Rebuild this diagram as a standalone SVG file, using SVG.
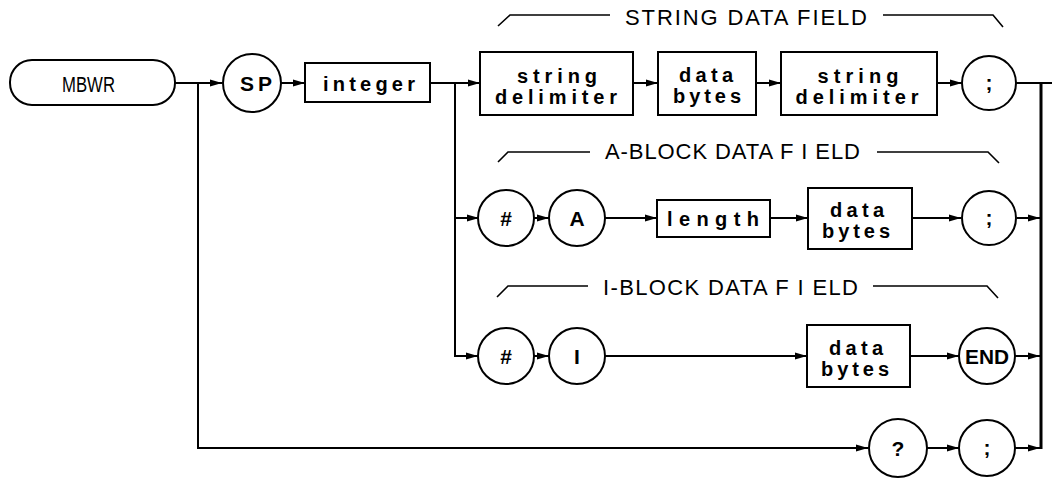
<svg xmlns="http://www.w3.org/2000/svg" width="1059" height="479" viewBox="0 0 1059 479">
<style>
.shape{fill:#fff;stroke:#000;stroke-width:2}
.ln{fill:none;stroke:#000;stroke-width:2}
.br{fill:none;stroke:#000;stroke-width:1.6}
.lbl{font-family:"Liberation Sans",Arial,sans-serif;font-size:22px;fill:#000}
.bt{font-family:"Liberation Sans",Arial,sans-serif;font-size:20px;font-weight:bold;fill:#000;text-anchor:middle}
.ct{font-family:"Liberation Sans",Arial,sans-serif;font-size:21px;font-weight:bold;fill:#000;text-anchor:middle}
</style>
<defs>
<marker id="ah" markerUnits="userSpaceOnUse" markerWidth="13" markerHeight="8" refX="12" refY="4" orient="auto">
<path d="M0,0.5 L12,4 L0,7.5 z" fill="#000"/>
</marker>
</defs>
<rect width="1059" height="479" fill="#fff"/>

<g id="connectors">
<line class="ln" x1="175" y1="83" x2="222" y2="83" marker-end="url(#ah)"/>
<line class="ln" x1="281" y1="83" x2="305" y2="83" marker-end="url(#ah)"/>
<line class="ln" x1="430" y1="83" x2="480" y2="83" marker-end="url(#ah)"/>
<line class="ln" x1="633" y1="83" x2="658" y2="83" marker-end="url(#ah)"/>
<line class="ln" x1="756" y1="83" x2="781" y2="83" marker-end="url(#ah)"/>
<line class="ln" x1="937" y1="83" x2="962" y2="83" marker-end="url(#ah)"/>
<line class="ln" x1="1016" y1="83" x2="1052" y2="83"/>
<line x1="1041" y1="82" x2="1041" y2="449" stroke="#000" stroke-width="3"/>
<polyline class="ln" points="198,83 198,448 868,448" marker-end="url(#ah)"/>
<polyline class="ln" points="455,83 455,356 478,356" marker-end="url(#ah)"/>
<line class="ln" x1="455" y1="218" x2="479" y2="218" marker-end="url(#ah)"/>
<line class="ln" x1="534" y1="218" x2="549" y2="218" marker-end="url(#ah)"/>
<line class="ln" x1="605" y1="218" x2="657" y2="218" marker-end="url(#ah)"/>
<line class="ln" x1="770" y1="218" x2="808" y2="218" marker-end="url(#ah)"/>
<line class="ln" x1="912" y1="218" x2="961" y2="218" marker-end="url(#ah)"/>
<line class="ln" x1="1017" y1="218" x2="1040" y2="218" marker-end="url(#ah)"/>
<line class="ln" x1="534" y1="356" x2="549" y2="356" marker-end="url(#ah)"/>
<line class="ln" x1="605" y1="356" x2="807" y2="356" marker-end="url(#ah)"/>
<line class="ln" x1="910" y1="356" x2="959" y2="356" marker-end="url(#ah)"/>
<line class="ln" x1="1015" y1="356" x2="1040" y2="356" marker-end="url(#ah)"/>
<line class="ln" x1="927" y1="448" x2="959" y2="448" marker-end="url(#ah)"/>
<line class="ln" x1="1015" y1="448" x2="1040" y2="448" marker-end="url(#ah)"/>
</g>

<g id="labels">
<path class="br" d="M498,26 L510,15 L610,15 M883,15 L993,15 L1003,27"/>
<text class="lbl" x="625" y="25" textLength="242" lengthAdjust="spacing">STRING DATA FIELD</text>
<path class="br" d="M498,162 L508,152 L590,152 M877,152 L988,152 L999,163"/>
<text class="lbl" x="605" y="159" textLength="255" lengthAdjust="spacing">A-BLOCK DATA F I ELD</text>
<path class="br" d="M497,297 L508,286 L588,286 M873,286 L987,286 L998,298"/>
<text class="lbl" x="603" y="295" textLength="255" lengthAdjust="spacing">I-BLOCK DATA F I ELD</text>
</g>

<g id="n-mbwr">
<rect class="shape" x="10" y="60" width="165" height="45" rx="22" ry="22"/>
<text class="lbl" x="62" y="92" font-size="23" textLength="53" lengthAdjust="spacingAndGlyphs">MBWR</text>
</g>
<g id="n-sp">
<circle class="shape" cx="252" cy="83" r="29"/>
<text class="ct" x="256" y="91" font-size="22" textLength="32" lengthAdjust="spacing">SP</text>
</g>
<g id="n-integer">
<rect class="shape" x="305" y="63" width="125" height="39"/>
<text class="bt" x="369" y="91" textLength="92" lengthAdjust="spacing">integer</text>
</g>

<g id="n-strdelim1">
<rect class="shape" x="480" y="52" width="153" height="63"/>
<text class="bt" x="557" y="83" textLength="80" lengthAdjust="spacing">string</text>
<text class="bt" x="556" y="104" textLength="122" lengthAdjust="spacing">delimiter</text>
</g>
<g id="n-databytes1">
<rect class="shape" x="658" y="52" width="98" height="63"/>
<text class="bt" x="706" y="82" textLength="54" lengthAdjust="spacing">data</text>
<text class="bt" x="707" y="103" textLength="68" lengthAdjust="spacing">bytes</text>
</g>
<g id="n-strdelim2">
<rect class="shape" x="781" y="52" width="156" height="63"/>
<text class="bt" x="858" y="83" textLength="81" lengthAdjust="spacing">string</text>
<text class="bt" x="857" y="104" textLength="123" lengthAdjust="spacing">delimiter</text>
</g>
<g id="n-semi1">
<circle class="shape" cx="989" cy="83" r="27"/>
<text class="ct" x="989" y="90">;</text>
</g>

<g id="n-hashA">
<circle class="shape" cx="506" cy="218" r="28"/>
<text class="ct" x="506" y="226">#</text>
</g>
<g id="n-A">
<circle class="shape" cx="577" cy="218" r="28"/>
<text class="ct" x="577" y="226">A</text>
</g>
<g id="n-length">
<rect class="shape" x="657" y="200" width="113" height="37"/>
<text class="bt" x="713" y="226" textLength="92" lengthAdjust="spacing">length</text>
</g>
<g id="n-databytes2">
<rect class="shape" x="808" y="188" width="104" height="61"/>
<text class="bt" x="857" y="217" textLength="54" lengthAdjust="spacing">data</text>
<text class="bt" x="856" y="238" textLength="68" lengthAdjust="spacing">bytes</text>
</g>
<g id="n-semi2">
<circle class="shape" cx="989" cy="218" r="27"/>
<text class="ct" x="989" y="225">;</text>
</g>

<g id="n-hashI">
<circle class="shape" cx="506" cy="356" r="28"/>
<text class="ct" x="506" y="364">#</text>
</g>
<g id="n-I">
<circle class="shape" cx="577" cy="356" r="28"/>
<text class="ct" x="577" y="364">I</text>
</g>
<g id="n-databytes3">
<rect class="shape" x="807" y="325" width="103" height="62"/>
<text class="bt" x="856" y="355" textLength="54" lengthAdjust="spacing">data</text>
<text class="bt" x="855" y="376" textLength="68" lengthAdjust="spacing">bytes</text>
</g>
<g id="n-end">
<circle class="shape" cx="987" cy="356" r="28"/>
<text class="ct" x="987" y="364" textLength="44" lengthAdjust="spacingAndGlyphs">END</text>
</g>

<g id="n-query">
<circle class="shape" cx="898" cy="448" r="29"/>
<text class="ct" x="898" y="456">?</text>
</g>
<g id="n-semi3">
<circle class="shape" cx="987" cy="448" r="28"/>
<text class="ct" x="987" y="455">;</text>
</g>
</svg>
